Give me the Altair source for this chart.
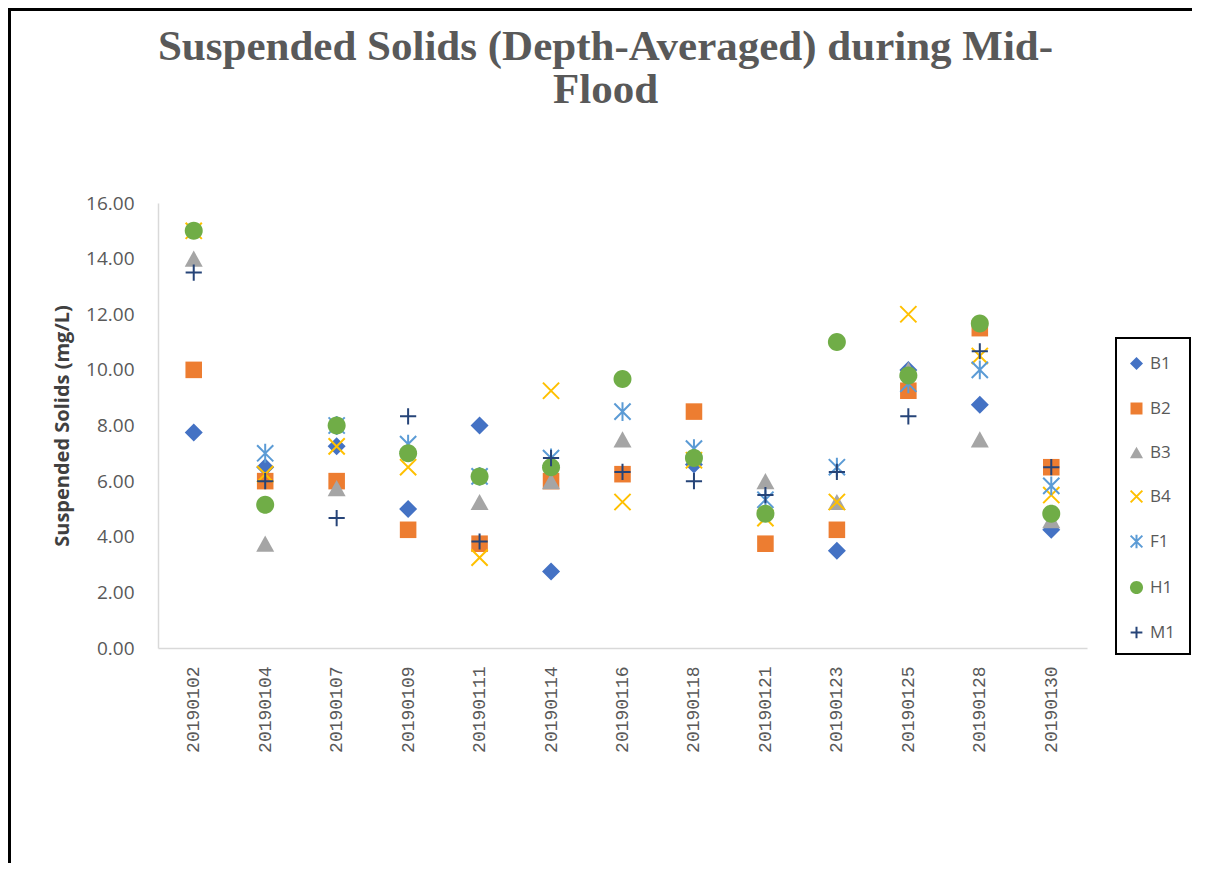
import altair as alt
import pandas as pd

dates = ["20190102", "20190104", "20190107", "20190109", "20190111", "20190114", "20190116",
         "20190118", "20190121", "20190123", "20190125", "20190128", "20190130"]

series_names = ["B1", "B2", "B3", "B4", "F1", "H1", "M1"]

B1 = [7.75, 6.5, 7.25, 5.0, 8.0, 2.75, None, 6.6, None, 3.5, 10.0, 8.75, 4.25]
B2 = [10.0, 6.0, 6.0, 4.25, 3.75, 6.0, 6.25, 8.5, 3.75, 4.25, 9.25, 11.5, 6.5]
B3 = [14.0, 3.75, 5.75, None, 5.25, 6.0, 7.5, None, 6.0, 5.25, 10.0, 7.5, 4.6]
B4 = [15.0, 6.25, 7.25, 6.5, 3.25, 9.25, 5.25, 6.75, 4.67, 5.25, 12.0, 10.5, 5.5]
F1 = [None, 7.0, 8.0, 7.33, 6.17, 6.83, 8.5, 7.17, 5.33, 6.5, 9.5, 10.0, 5.83]
H1 = [15.0, 5.15, 8.0, 7.0, 6.17, 6.5, 9.67, 6.83, 4.83, 11.0, 9.8, 11.67, 4.83]
M1 = [13.5, 6.0, 4.67, 8.33, 3.83, 6.83, 6.33, 6.0, 5.5, 6.33, 8.33, 10.67, 6.5]

series_values = [B1, B2, B3, B4, F1, H1, M1]

fills = ["#4472C4", "#ED7D31", "#A5A5A5", "transparent", "transparent", "#70AD47", "transparent"]
strokes = ["transparent", "transparent", "transparent", "#FFC000", "#5B9BD5", "transparent", "#264478"]
shapes = [
    "M0,-1L1,0L0,1L-1,0Z",
    "M-0.92,-0.92H0.92V0.92H-0.92Z",
    "M0,-0.9L1,0.9H-1Z",
    "M-0.9,-0.9L0.9,0.9M-0.9,0.9L0.9,-0.9",
    "M-0.9,-0.9L0.9,0.9M-0.9,0.9L0.9,-0.9M0,-1.05L0,1.05",
    "M-1,0A1,1,0,1,1,1,0A1,1,0,1,1,-1,0Z",
    "M-0.9,0L0.9,0M0,-0.9L0,0.9",
]

rows = []
for name, vals in zip(series_names, series_values):
    for d, v in zip(dates, vals):
        if v is not None:
            rows.append({"date": d, "series": name, "value": v})
df = pd.DataFrame(rows)

W, H = 929, 445

x_enc = alt.X("date:O", sort=dates,
              scale=alt.Scale(type="point", padding=0.5),
              axis=alt.Axis(title=None, labelAngle=-90, labelFont="Liberation Mono",
                            labelFontSize=18, labelColor="#595959", labelPadding=18,
                            ticks=False, domainColor="#D9D9D9", domainWidth=1.5, grid=False))
y_enc = alt.Y("value:Q",
              scale=alt.Scale(domain=[0, 16], nice=False, zero=True),
              axis=alt.Axis(title="Suspended Solids (mg/L)", values=[0, 2, 4, 6, 8, 10, 12, 14, 16],
                            format=".2f", labelFont="Open Sans", labelFontSize=19,
                            labelColor="#595959", labelPadding=24, ticks=False,
                            domainColor="#D9D9D9", domainWidth=1.5, grid=False,
                            titleFont="Open Sans", titleFontSize=20, titleFontWeight="bold",
                            titleColor="#404040", titlePadding=13))

legend = alt.Legend(title=None, orient="none", legendX=970, legendY=152,
                    labelFont="Open Sans", labelFontSize=17, labelColor="#595959",
                    symbolSize=170, symbolStrokeWidth=2, symbolOpacity=1,
                    rowPadding=23, labelOffset=5, padding=0)

points = alt.Chart(df).mark_point(size=324, opacity=1, strokeWidth=2).encode(
    x=x_enc,
    y=y_enc,
    shape=alt.Shape("series:N", sort=series_names,
                    scale=alt.Scale(domain=series_names, range=shapes), legend=legend),
    fill=alt.Fill("series:N", sort=series_names,
                  scale=alt.Scale(domain=series_names, range=fills), legend=legend),
    stroke=alt.Stroke("series:N", sort=series_names,
                      scale=alt.Scale(domain=series_names, range=strokes), legend=legend),
)

legend_box = alt.Chart(df).mark_rect(fill="transparent", stroke="black", strokeWidth=2).encode(
    x=alt.value(958), x2=alt.value(1032), y=alt.value(135), y2=alt.value(451)
)

left_border = alt.Chart(df).mark_rule(color="black", strokeWidth=3).encode(
    x=alt.value(-149), y=alt.value(-194), y2=alt.value(660)
)
top_border = alt.Chart(df).mark_rule(color="black", strokeWidth=3).encode(
    x=alt.value(-150), x2=alt.value(1040), y=alt.value(-193.5)
)

chart = alt.layer(legend_box, left_border, top_border, points).properties(
    width=W, height=H,
    autosize=alt.AutoSizeParams(type="none"),
    padding={"left": 150, "top": 195, "right": 105, "bottom": 215},
    title=alt.TitleParams(
        text=["Suspended Solids (Depth-Averaged) during Mid-", "Flood"],
        font="Liberation Serif", fontSize=43, fontWeight="bold", color="#595959",
        anchor="middle", frame="group", dx=-17, offset=-104, lineHeight=43,
    ),
).configure(background="white", view=alt.ViewConfig(stroke="transparent", strokeWidth=0))

chart.save("out.html", embed_options={"renderer": "svg", "actions": False})
